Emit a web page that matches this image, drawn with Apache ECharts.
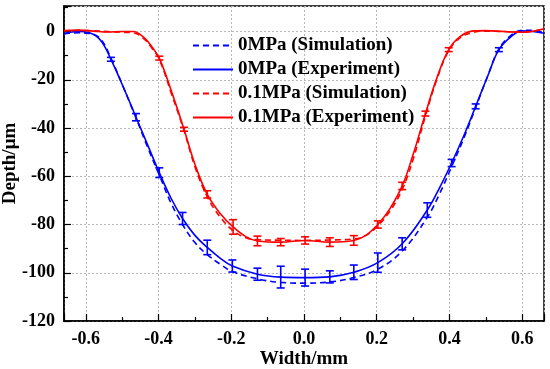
<!DOCTYPE html>
<html>
<head>
<meta charset="utf-8">
<script src="https://cdn.jsdelivr.net/npm/echarts@6/dist/echarts.min.js"></script>
<style>html,body{margin:0;padding:0;background:#fff;}#c{width:550px;height:369px;}</style>
</head>
<body>
<div id="c"></div>
<script>
// Width (mm) sample positions of the curves
var blueX = [-0.66, -0.62, -0.59, -0.56, -0.531, -0.497, -0.462, -0.43, -0.398, -0.366, -0.334, -0.3, -0.266, -0.23, -0.197, -0.128, -0.064, 0.003, 0.071, 0.137, 0.203, 0.27, 0.339, 0.372, 0.406, 0.44, 0.472, 0.505, 0.536, 0.57, 0.599, 0.63, 0.66];
var blueExp = [-0.8, 0, -0.5, -3.5, -11.5, -23, -35.5, -47, -58.5, -69, -77.5, -84.5, -89.5, -94, -97.2, -100.6, -101.8, -102, -101.7, -99.8, -95.8, -88, -74, -65, -54.5, -43, -31, -18.5, -7.5, -2, 0.3, 0, -0.7];
var blueSim = [-1, -0.5, -0.8, -3, -11, -23, -35.8, -48, -59.5, -71, -80, -87.5, -92.5, -96.5, -99.5, -102.5, -104, -104.3, -103.8, -102, -98.5, -91, -77, -67.5, -56, -44, -31.5, -18.5, -7.2, -1.5, 0.5, 0.5, -0.7];

var redX = [-0.66, -0.62, -0.58, -0.54, -0.5, -0.47, -0.44, -0.42, -0.398, -0.364, -0.33, -0.3, -0.266, -0.23, -0.195, -0.16, -0.128, -0.064, 0.003, 0.071, 0.137, 0.17, 0.203, 0.236, 0.27, 0.3, 0.334, 0.366, 0.398, 0.43, 0.467, 0.5, 0.55, 0.6, 0.66];
var redExp = [0.4, 0.6, 0.2, -0.2, 0, 0, -2.5, -6, -11, -25, -40.5, -55, -67.5, -75.5, -81, -85, -86.8, -87.3, -86.6, -87.3, -86.6, -84.5, -80, -73.5, -64, -51, -34, -19, -7.5, -2, 0.3, 0.4, 0, -0.3, 1.2];
var redSim = [0.3, 0.5, 0.3, 0, -0.3, -0.5, -3, -6.5, -11.5, -26, -41, -56, -68.5, -77, -82.5, -85.5, -86.3, -86.5, -86.6, -86.4, -86, -84.5, -80.5, -74.5, -65.5, -53, -35, -19.5, -8, -2.5, -0.3, 0.2, 0, -0.2, 1];

// Error bars (experiment)
var blueErrX = [-0.531, -0.462, -0.398, -0.334, -0.266, -0.197, -0.128, -0.064, 0.003, 0.071, 0.137, 0.203, 0.27, 0.339, 0.406, 0.472, 0.536];
var blueErrY = [-11.5, -35.5, -58.5, -77.5, -89.5, -97.2, -100.6, -101.8, -102, -101.7, -99.8, -95.8, -88, -74, -54.5, -31, -7.5];
var blueErrE = [0.8, 1.5, 2, 2.5, 3, 2.5, 2.5, 4.5, 3.5, 2.5, 3, 4, 2.5, 3, 1.5, 1, 0.8];

var redErrX = [-0.398, -0.33, -0.266, -0.195, -0.128, -0.064, 0.003, 0.071, 0.137, 0.203, 0.27, 0.334, 0.398];
var redErrY = [-11, -40.5, -67.5, -81, -86.8, -87.3, -86.6, -87.3, -86.6, -80, -64, -34, -7.5];
var redErrE = [0.8, 0.8, 1.5, 3, 2, 1.5, 1.5, 1.8, 2, 1.5, 1.5, 1, 0.8];

var names = ['0MPa (Simulation)', '0MPa (Experiment)', '0.1MPa (Simulation)', '0.1MPa (Experiment)'];

function zip(xs, ys) { return xs.map(function (x, i) { return [x, ys[i]]; }); }
function errData(xs, ys, es) { return xs.map(function (x, i) { return [x, ys[i], es[i]]; }); }

function errRender(color) {
  return function (params, api) {
    var x = api.value(0), y = api.value(1), e = api.value(2);
    var top = api.coord([x, y + e]);
    var bot = api.coord([x, y - e]);
    var w = 4;
    var st = { stroke: color, lineWidth: 1.6 };
    return {
      type: 'group',
      children: [
        { type: 'line', shape: { x1: top[0], y1: top[1], x2: bot[0], y2: bot[1] }, style: st },
        { type: 'line', shape: { x1: top[0] - w, y1: top[1], x2: top[0] + w, y2: top[1] }, style: st },
        { type: 'line', shape: { x1: bot[0] - w, y1: bot[1], x2: bot[0] + w, y2: bot[1] }, style: st }
      ]
    };
  };
}

var FONT = '"Liberation Serif", "Times New Roman", serif';
var BLUE = '#0000ff', RED = '#ff0000';

var chart = echarts.init(document.getElementById('c'), null, { renderer: 'canvas' });
chart.setOption({
  animation: false,
  backgroundColor: '#fff',
  grid: { left: 64, right: 6, top: 6, bottom: 48, outerBoundsMode: 'none', containLabel: false, show: true, borderColor: '#000', borderWidth: 1.5, backgroundColor: 'transparent' },
  legend: {
    data: names,
    orient: 'vertical',
    left: 187,
    top: 31,
    itemWidth: 40,
    itemHeight: 14,
    itemGap: 5,
    itemStyle: { opacity: 0 },
    textStyle: { fontFamily: FONT, fontWeight: 'bold', fontSize: 19, color: '#000' }
  },
  xAxis: {
    type: 'value',
    min: -0.66,
    max: 0.66,
    splitNumber: 6,
    name: 'Width/mm',
    nameLocation: 'middle',
    nameGap: 29,
    nameMoveOverlap: false,
    nameTextStyle: { fontFamily: FONT, fontWeight: 'bold', fontSize: 19, color: '#000' },
    axisLine: { show: true, onZero: false, lineStyle: { color: '#000', width: 1.5 } },
    axisTick: { show: true, inside: true, length: 7, lineStyle: { color: '#000', width: 1.2 } },
    minorTick: { show: true, splitNumber: 2, length: 4, lineStyle: { color: '#000', width: 1.2 } },
    axisLabel: {
      showMinLabel: false, showMaxLabel: false, margin: 9,
      fontFamily: FONT, fontWeight: 'bold', fontSize: 18, color: '#000',
      formatter: function (v) { return v.toFixed(1); }
    },
    splitLine: { show: true, lineStyle: { color: '#b8b8b8', type: [2, 2], width: 1 } }
  },
  yAxis: {
    type: 'value',
    min: -120,
    max: 10.6,
    interval: 20,
    name: 'Depth/μm',
    nameLocation: 'middle',
    nameGap: 44,
    nameMoveOverlap: false,
    nameTextStyle: { fontFamily: FONT, fontWeight: 'bold', fontSize: 19, color: '#000' },
    axisLine: { show: true, onZero: false, lineStyle: { color: '#000', width: 1.5 } },
    axisTick: { show: true, inside: true, length: 7, lineStyle: { color: '#000', width: 1.2 } },
    minorTick: { show: true, splitNumber: 2, length: 4, lineStyle: { color: '#000', width: 1.2 } },
    axisLabel: {
      showMaxLabel: false, margin: 9,
      fontFamily: FONT, fontWeight: 'bold', fontSize: 18, color: '#000'
    },
    splitLine: { show: true, lineStyle: { color: '#b8b8b8', type: [2, 2], width: 1 } }
  },
  series: [
    { name: names[0], type: 'line', data: zip(blueX, blueSim), smooth: 0.4, symbol: 'none', lineStyle: { color: BLUE, width: 1.6, type: [6, 4] }, itemStyle: { color: BLUE }, z: 3 },
    { name: names[1], type: 'line', data: zip(blueX, blueExp), smooth: 0.4, symbol: 'none', lineStyle: { color: BLUE, width: 1.6 }, itemStyle: { color: BLUE }, z: 3 },
    { name: names[2], type: 'line', data: zip(redX, redSim), smooth: 0.4, symbol: 'none', lineStyle: { color: RED, width: 1.6, type: [6, 4] }, itemStyle: { color: RED }, z: 3 },
    { name: names[3], type: 'line', data: zip(redX, redExp), smooth: 0.4, symbol: 'none', lineStyle: { color: RED, width: 1.6 }, itemStyle: { color: RED }, z: 3 },
    { name: 'blueErr', type: 'custom', data: errData(blueErrX, blueErrY, blueErrE), renderItem: errRender(BLUE), z: 4 },
    { name: 'redErr', type: 'custom', data: errData(redErrX, redErrY, redErrE), renderItem: errRender(RED), z: 4 }
  ]
});
</script>
</body>
</html>
